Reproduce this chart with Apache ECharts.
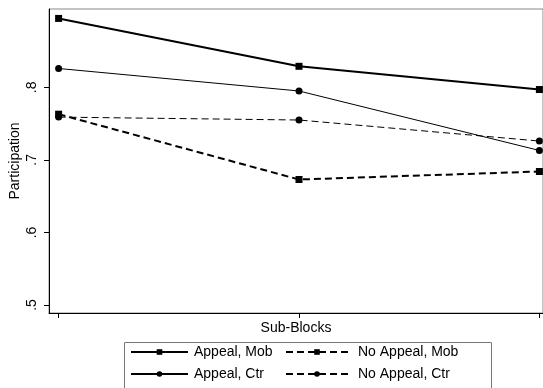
<!DOCTYPE html>
<html><head><meta charset="utf-8">
<script src="https://cdn.jsdelivr.net/npm/echarts@6/dist/echarts.min.js"></script>
<style>html,body{margin:0;padding:0;background:#fff}#c{width:543px;height:388px}</style>
</head><body><div id="c"></div>
<script>
const subBlocks = [1, 2, 3];
const appealMob = [0.895, 0.829, 0.797];
const appealCtr = [0.826, 0.795, 0.713];
const noAppealMob = [0.763, 0.673, 0.684];
const noAppealCtr = [0.759, 0.755, 0.726];
const yTicks = [0.5, 0.6, 0.7, 0.8];
const yTickLabels = ['.5', '.6', '.7', '.8'];

const pairs = arr => subBlocks.map((x, i) => [x, arr[i]]);
const FONT = 'Liberation Sans';
function mk(name, data, symbol, width, dashed) {
  return {
    name, type: 'line', data: pairs(data), symbol, symbolSize: 7,
    lineStyle: { color: '#000', width, type: dashed ? [7, 4] : 'solid' },
    itemStyle: { color: '#000' }, animation: false,
    emphasis: { disabled: true }
  };
}
function lg(name, left, top, w, pad) {
  return { left, top, orient: 'horizontal', itemWidth: w, itemHeight: 7, padding: 0,
    textStyle: { fontSize: 14, color: '#000', fontFamily: FONT, padding: [0, 0, 0, pad] },
    data: [name], selectedMode: false };
}
const chart = echarts.init(document.getElementById('c'));
chart.setOption({
  animation: false,
  textStyle: { fontFamily: FONT },
  grid: { left: 49, right: 0, top: 9, bottom: 75, show: true, borderColor: '#888', borderWidth: 1,
    containLabel: false, outerBoundsMode: 'none' },
  xAxis: {
    type: 'value', min: 0.96, max: 3.015,
    name: 'Sub-Blocks', nameLocation: 'middle', nameGap: 8, nameMoveOverlap: false,
    nameTextStyle: { fontSize: 14, color: '#000', fontFamily: FONT, verticalAlign: 'top' },
    axisLine: { lineStyle: { color: '#000', width: 1 } },
    axisTick: { show: true, length: 5, lineStyle: { color: '#000' }, customValues: subBlocks },
    axisLabel: { show: false },
    splitLine: { show: false }
  },
  yAxis: {
    type: 'value', min: 0.489, max: 0.908,
    name: 'Participation', nameLocation: 'middle', nameGap: 27, nameRotate: 90, nameMoveOverlap: false,
    nameTextStyle: { fontSize: 14, color: '#000', fontFamily: FONT },
    axisLine: { show: true, lineStyle: { color: '#000', width: 1 } },
    axisTick: { show: true, length: 5, lineStyle: { color: '#000' }, customValues: yTicks },
    axisLabel: { show: true, rotate: 90, fontSize: 14, color: '#000', margin: 10, fontFamily: FONT,
      customValues: yTicks,
      formatter: v => yTickLabels[yTicks.findIndex(t => Math.abs(t - v) < 1e-6)] },
    splitLine: { show: false }
  },
  legend: [
    lg('Appeal, Mob', 130, 345, 57, 1),
    lg('Appeal, Ctr', 130, 367, 57, 1),
    lg('No Appeal, Mob', 285, 345, 62, 5),
    lg('No Appeal, Ctr', 285, 367, 62, 5)
  ],
  graphic: [{ type: 'rect', shape: { x: 124.5, y: 342.5, width: 367, height: 60 },
    style: { fill: 'none', stroke: '#777', lineWidth: 1 }, silent: true }],
  series: [
    mk('Appeal, Mob', appealMob, 'rect', 2, false),
    mk('Appeal, Ctr', appealCtr, 'circle', 1, false),
    mk('No Appeal, Mob', noAppealMob, 'rect', 2, true),
    mk('No Appeal, Ctr', noAppealCtr, 'circle', 1, true)
  ]
});
</script></body></html>
